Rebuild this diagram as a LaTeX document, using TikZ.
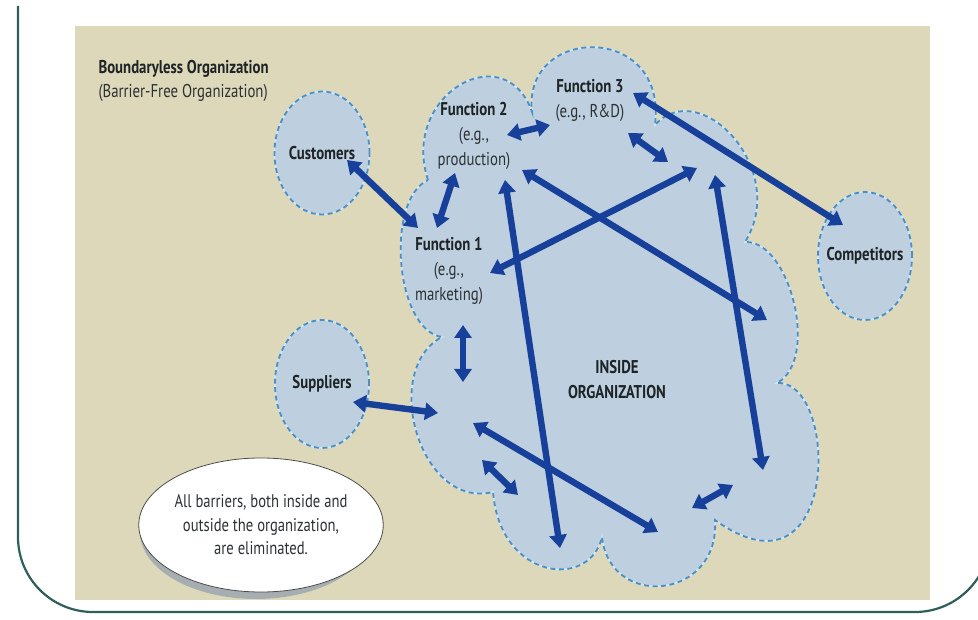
\documentclass[tikz,border=0pt]{standalone}
\usepackage{fontspec}
\setmainfont{PT Sans}[FakeStretch=0.8]
\usetikzlibrary{arrows.meta,shapes.geometric}
\definecolor{panelbeige}{HTML}{DDD8B9}
\definecolor{cloudblue}{HTML}{BED0DF}
\definecolor{cloudedge}{HTML}{4A90C6}
\definecolor{cloudhalo}{HTML}{D6E6F1}
\definecolor{arrowblue}{HTML}{17409A}
\definecolor{framegreen}{HTML}{2F5F58}
\definecolor{shadowgrey}{HTML}{A6AEB1}
\definecolor{inktext}{HTML}{1E2326}
\definecolor{greytext}{HTML}{2C3134}
\tikzset{
  link/.style={draw=arrowblue, line width=6.4pt,
    {Triangle[length=13pt,width=17pt]}-{Triangle[length=13pt,width=17pt]}},
  halo/.style={draw=cloudhalo, line width=1.6pt},
  edge/.style={draw=cloudedge, line width=1.8pt, dash pattern=on 5pt off 3.5pt},
  partner/.style={inner sep=0pt, text=inktext,
    font=\bfseries\fontsize{18.5}{25}\selectfont},
  lbl/.style={align=center, text=greytext, font=\fontsize{18.5}{25}\selectfont},
}
\begin{document}
\begin{tikzpicture}[x=1pt,y=-1pt]
\useasboundingbox (0,0) rectangle (978,620);
\clip (0,0) rectangle (978,620);

% outer frame and background panel
\draw[framegreen, line width=2.2pt, rounded corners=75pt]
  (18,6) -- (18,612) -- (990,612) -- (990,6);
\fill[panelbeige] (75,26) rectangle (930,600);

% title
\node[anchor=west, text=inktext, font=\bfseries\fontsize{18.5}{22}\selectfont] (title) at (95,69) {Boundaryless Organization};
\node[anchor=west, text=greytext, font=\fontsize{18.5}{22}\selectfont] (subtitle) at (95,93) {(Barrier-Free Organization)};

% the organization: one cloud of merged bumps
\def\orgcloud{(428,180) .. controls (400,95) and (505,35) .. (532,112)
  .. controls (522,25) and (668,22) .. (655,125)
  .. controls (700,75) and (790,170) .. (745,242)
  .. controls (790,240) and (820,360) .. (777,383)
  .. controls (840,380) and (840,610) .. (715,520)
  .. controls (720,600) and (610,610) .. (602,537)
  .. controls (590,590) and (500,580) .. (493,492)
  .. controls (420,510) and (380,370) .. (442,337)
  .. controls (395,330) and (385,200) .. (428,180) -- cycle}
\fill[cloudblue] \orgcloud;
\draw[halo] \orgcloud;
\draw[edge] \orgcloud;

% outside partners
\coordinate (custc) at (322,153);
\coordinate (suppc) at (322,384);
\coordinate (compc) at (865,256);
\def\custshape{(custc) ellipse[x radius=47.5pt, y radius=61.5pt]}
\def\suppshape{(suppc) ellipse[x radius=47pt, y radius=64pt]}
\def\compshape{(compc) ellipse[x radius=47pt, y radius=64pt]}
\foreach \shp in {\custshape,\suppshape,\compshape}{
  \fill[cloudblue] \shp;
  \draw[halo] \shp;
  \draw[edge] \shp;
}
\node[partner] (cust) at (custc) {Customers};
\node[partner] (supp) at (suppc) {Suppliers};
\node[partner] (comp) at (compc) {Competitors};

% functions and inside label
\node[lbl] (f2) at (474,136) {\textcolor{inktext}{\textbf{Function 2}}\\(e.g.,\\production)};
\node[lbl, anchor=north west] (f3) at (552,76) {\textcolor{inktext}{\textbf{Function 3}}\\(e.g., R\&D)};
\node[lbl] (f1) at (449,271) {\textcolor{inktext}{\textbf{Function 1}}\\(e.g.,\\marketing)};
\node[lbl, text=inktext, font=\bfseries\fontsize{18.5}{25}\selectfont] (inside) at (617,380) {INSIDE\\ORGANIZATION};

% arrow end points
\coordinate (pCust) at (347,160);  \coordinate (pF1a) at (418,228);
\coordinate (pF1b) at (437,228);   \coordinate (pF2a) at (455,173);
\coordinate (pF2b) at (507,135);   \coordinate (pF3a) at (550,125);
\coordinate (pF3b) at (628,133);   \coordinate (pNEa) at (668,162);
\coordinate (pF3c) at (633,93);    \coordinate (pComp) at (843,225);
\coordinate (pF1c) at (490,273);   \coordinate (pNEb) at (697,168);
\coordinate (pF2c) at (522,170);   \coordinate (pSEa) at (767,320);
\coordinate (pF2d) at (505,180);   \coordinate (pSb) at (560,548);
\coordinate (pNEc) at (715,175);   \coordinate (pSEb) at (763,470);
\coordinate (pF1d) at (463,325);   \coordinate (pSWa) at (463,382);
\coordinate (pSupp) at (353,402);  \coordinate (pSWb) at (438,413);
\coordinate (pSWc) at (473,423);   \coordinate (pSc) at (658,532);
\coordinate (pSWd) at (482,460);   \coordinate (pSWe) at (518,495);
\coordinate (pSd) at (692,508);    \coordinate (pSe) at (733,485);

% two-way links
\draw[link] (pCust) -- (pF1a);
\draw[link] (pF1b) -- (pF2a);
\draw[link] (pF2b) -- (pF3a);
\draw[link] (pF3b) -- (pNEa);
\draw[link] (pF3c) -- (pComp);
\draw[link] (pF1c) -- (pNEb);
\draw[link] (pF2c) -- (pSEa);
\draw[link] (pF2d) -- (pSb);
\draw[link] (pNEc) -- (pSEb);
\draw[link] (pF1d) -- (pSWa);
\draw[link] (pSupp) -- (pSWb);
\draw[link] (pSWc) -- (pSc);
\draw[link] (pSWd) -- (pSWe);
\draw[link] (pSd) -- (pSe);

% callout
\fill[shadowgrey] (256,532) ellipse[x radius=116pt, y radius=67pt];
\node[ellipse, fill=white, draw=black!70, line width=0.8pt, minimum width=232pt, minimum height=134pt,
  inner sep=0pt, align=center, text=greytext, font=\fontsize{18.3}{23.5}\selectfont] (note) at (261,525)
  {All barriers, both inside and\\outside the organization,\\are eliminated.};
\end{tikzpicture}
\end{document}
